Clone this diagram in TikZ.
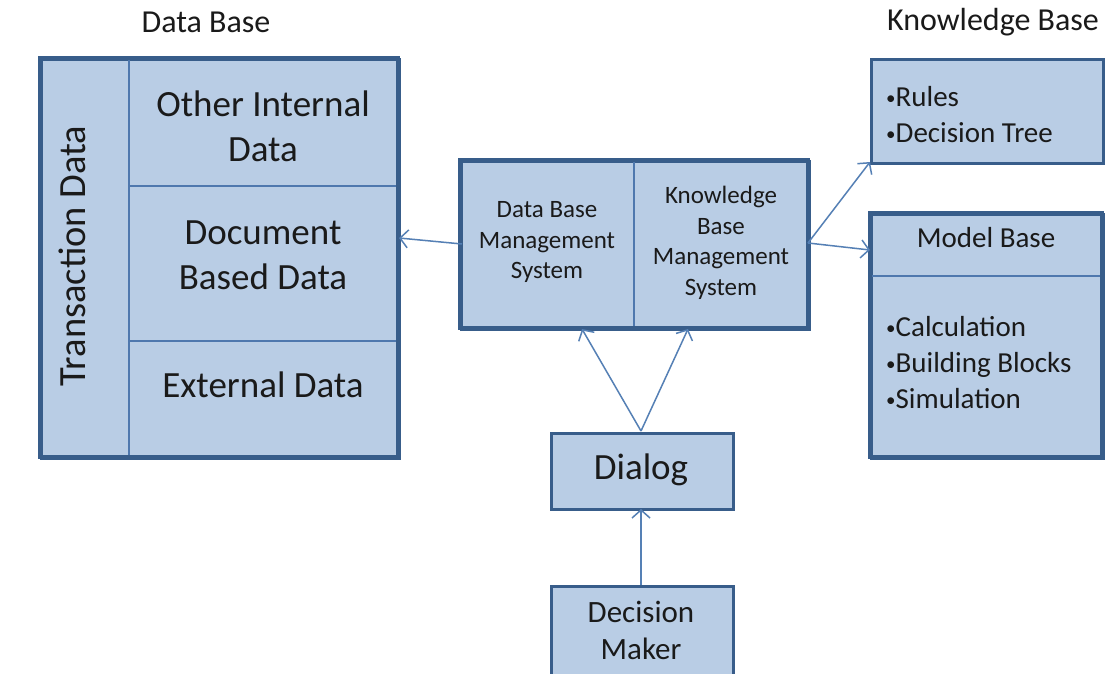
\documentclass[tikz,border=0pt]{standalone}
\usepackage{fontspec}
\setmainfont{Carlito}
\usetikzlibrary{arrows.meta}
\definecolor{fillc}{HTML}{B9CDE5}
\definecolor{bdr}{HTML}{385D8A}
\definecolor{divc}{HTML}{4F78AE}
\definecolor{arrc}{HTML}{5580B5}
\definecolor{txt}{HTML}{1A1A1A}
\newcommand{\bul}{{\fontsize{19}{19}\selectfont\raisebox{2pt}{\textbullet}}}
\tikzset{
  box/.style={draw=bdr, line width=3.4pt, fill=fillc, inner sep=0pt, anchor=north west},
  divider/.style={draw=divc, line width=1.3pt},
  lbl/.style={text=txt, align=center, inner sep=0pt},
  big/.style={lbl, font=\fontsize{37}{45}\selectfont},
  mid/.style={lbl, font=\fontsize{25}{30.5}\selectfont},
  lst/.style={lbl, align=left, anchor=west, font=\fontsize{29}{36}\selectfont},
  ttl/.style={lbl, font=\fontsize{32}{38}\selectfont},
  arr/.style={draw=arrc, line width=1.5pt, -{Straight Barb[length=8pt,width=18pt,line width=1.5pt]}}
}
\begin{document}
\begin{tikzpicture}[x=1pt,y=-1pt]
\fill[white] (0,0) rectangle (1111,674);
\useasboundingbox (0,0) rectangle (1111,674);
\clip (0,0) rectangle (1111,674);
% titles
\node[ttl] (tdb) at (206,22) {Data Base};
\node[ttl] (tkb) at (993,22) {Knowledge Base};
% data base box
\node[box, minimum width=358pt, minimum height=399pt] (db) at (40,58) {};
\coordinate (dv1) at (129,58);
\coordinate (dv2) at (129,457);
\draw[divider] (dv1) -- (dv2);
\coordinate (h1a) at (129,186); \coordinate (h1b) at (398,186);
\coordinate (h2a) at (129,341); \coordinate (h2b) at (398,341);
\draw[divider] (h1a) -- (h1b);
\draw[divider] (h2a) -- (h2b);
\draw[bdr, line width=3.4pt] (40,58) rectangle (398,457);
\node[lbl, font=\fontsize{38.5}{45}\selectfont, rotate=90] (trans) at (72,256) {Transaction Data};
\node[big] (oid) at (263,126) {Other Internal\\Data};
\node[big] (dbd) at (263,255) {Document\\Based Data};
\node[big] (ext) at (263,385) {External Data};
% central box
\node[box, minimum width=348pt, minimum height=168pt] (cb) at (460,160) {};
\coordinate (cdv1) at (634,160); \coordinate (cdv2) at (634,328);
\draw[divider] (cdv1) -- (cdv2);
\draw[bdr, line width=3.4pt] (460,160) rectangle (808,328);
\node[mid] (dbms) at (547,242) {Data Base\\Management\\System};
\node[mid] (kbms) at (721,243) {Knowledge\\Base\\Management\\System};
% rules box
\node[box, minimum width=232pt, minimum height=104pt] (rules) at (870,58) {};
\node[lst] (rtxt) at (886,115) {\bul Rules\\\bul Decision Tree};
% model base box
\node[box, minimum width=232pt, minimum height=244pt] (mb) at (870,213) {};
\coordinate (mh1) at (870,276); \coordinate (mh2) at (1102,276);
\draw[divider] (mh1) -- (mh2);
\draw[bdr, line width=3.4pt] (870,213) rectangle (1102,457);
\node[lst, anchor=center, align=center] (mbt) at (986,238) {Model Base};
\node[lst] (mtxt) at (886,363) {\bul Calculation\\\bul Building Blocks\\\bul Simulation};
% dialog
\node[box, minimum width=182pt, minimum height=76pt] (dlg) at (550,432) {};
\node[lbl, font=\fontsize{37}{45}\selectfont] (dlgt) at (641,470) {Dialog};
% decision maker
\node[box, minimum width=182pt, minimum height=130pt] (dm) at (550,585) {};
\node[lbl, font=\fontsize{31}{37}\selectfont] (dmt) at (641,630) {Decision\\Maker};
% connectors
\coordinate (cL) at (462,244);
\coordinate (dbR) at (399,238);
\draw[arr] (cL) -- (dbR);
\coordinate (cR) at (808,243);
\coordinate (rulesBL) at (870,162);
\coordinate (mbL) at (870,250);
\draw[arr] (cR) -- (rulesBL);
\draw[arr] (cR) -- (mbL);
\coordinate (dlgTop) at (641,431);
\coordinate (cb1) at (582,329);
\coordinate (cb2) at (688,329);
\draw[arr] (dlgTop) -- (cb1);
\draw[arr] (dlgTop) -- (cb2);
\coordinate (dmTop) at (641,585);
\coordinate (dlgBot) at (641,509);
\draw[arr] (dmTop) -- (dlgBot);
\end{tikzpicture}
\end{document}
